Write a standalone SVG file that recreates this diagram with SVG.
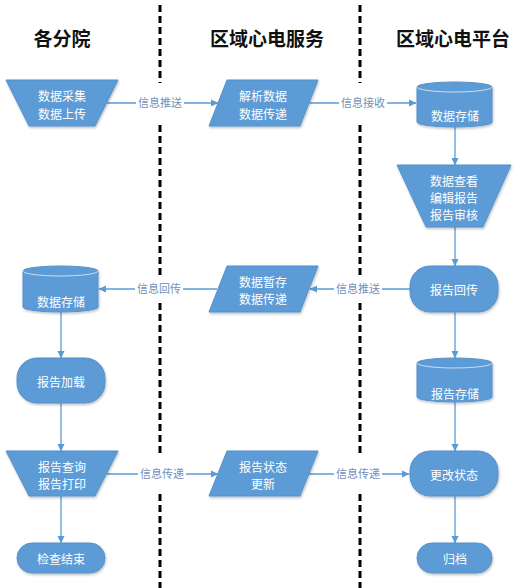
<svg xmlns="http://www.w3.org/2000/svg" width="521" height="588" viewBox="0 0 521 588">
<defs>
<marker id="ah" markerWidth="8" markerHeight="8" refX="7" refY="4" orient="auto" markerUnits="userSpaceOnUse">
<path d="M0,0.5 L7.5,4 L0,7.5 Z" fill="#5B9BD5"/>
</marker>
<filter id="sh" x="-10%" y="-10%" width="125%" height="135%">
<feDropShadow dx="0.8" dy="1.5" stdDeviation="1.2" flood-color="#000" flood-opacity="0.25"/>
</filter>
<style>
.title{font-family:"Noto Sans CJK SC","Liberation Sans",sans-serif;font-size:19px;font-weight:bold;fill:#111;text-anchor:middle;dominant-baseline:central}
.shape{fill:#5B9BD5;stroke:#5591CC;stroke-width:1;filter:url(#sh)}
.nt{font-family:"Noto Sans CJK SC","Liberation Sans",sans-serif;font-size:12px;fill:#fff;text-anchor:middle;dominant-baseline:central}
.cl{fill:none;stroke:#C9DDF1;stroke-width:1}
.edge{fill:none;stroke:#5B9BD5;stroke-width:1.3;marker-end:url(#ah)}
.lbg{fill:#fff}
.lt{font-family:"Noto Sans CJK SC","Liberation Sans",sans-serif;font-size:11px;fill:#6F8FB8;text-anchor:middle;dominant-baseline:central}
.lane{stroke:#000;stroke-width:3;stroke-dasharray:7 4;fill:none}
</style>
</defs>

<g id="lanes">
<path class="lane" d="M160,5 V83 M160,125 V275 M160,303 V453 M160,494 V588"/>
<path class="lane" d="M360,5 V83 M360,125 V275 M360,303 V453 M360,494 V588"/>
</g>

<g id="titles">
<text class="title" x="62" y="37">各分院</text>
<text class="title" x="267" y="37">区域心电服务</text>
<text class="title" x="453" y="37">区域心电平台</text>
</g>

<g id="connectors">
<line class="edge" x1="107" y1="103" x2="218" y2="103"/>
<line class="edge" x1="309" y1="103" x2="416" y2="103"/>
<line class="edge" x1="455" y1="127" x2="455" y2="165"/>
<line class="edge" x1="455" y1="227" x2="455" y2="266"/>
<line class="edge" x1="410" y1="289" x2="310" y2="289"/>
<line class="edge" x1="217" y1="289" x2="99" y2="289"/>
<line class="edge" x1="61" y1="312" x2="61" y2="358"/>
<line class="edge" x1="455" y1="312" x2="455" y2="358"/>
<line class="edge" x1="61" y1="403" x2="61" y2="451"/>
<line class="edge" x1="455" y1="402" x2="455" y2="451"/>
<line class="edge" x1="107" y1="474" x2="218" y2="474"/>
<line class="edge" x1="309" y1="474" x2="409" y2="474"/>
<line class="edge" x1="61" y1="496" x2="61" y2="543"/>
<line class="edge" x1="455" y1="496" x2="455" y2="543"/>
<rect class="lbg" x="136" y="95" width="48" height="16"/>
<text class="lt" x="160" y="102">信息推送</text>
<rect class="lbg" x="339" y="95" width="48" height="16"/>
<text class="lt" x="363" y="102">信息接收</text>
<rect class="lbg" x="334" y="281" width="48" height="16"/>
<text class="lt" x="358" y="288">信息推送</text>
<rect class="lbg" x="135" y="281" width="48" height="16"/>
<text class="lt" x="159" y="288">信息回传</text>
<rect class="lbg" x="138" y="466" width="48" height="16"/>
<text class="lt" x="162" y="473">信息传递</text>
<rect class="lbg" x="334" y="466" width="48" height="16"/>
<text class="lt" x="358" y="473">信息传递</text>
</g>

<g id="n-collect">
<polygon class="shape" points="6,80 118,80 95,126 29,126"/>
<text class="nt" x="62" y="95">数据采集</text>
<text class="nt" x="62" y="113">数据上传</text>
</g>

<g id="n-parse">
<polygon class="shape" points="227,80 318,80 300,126 209,126"/>
<text class="nt" x="263" y="95">解析数据</text>
<text class="nt" x="263" y="113">数据传递</text>
</g>

<g id="n-store1">
<path class="shape" d="M417,87 A37.5,5 0 0 1 492,87 V122 A37.5,5 0 0 1 417,122 Z"/>
<path class="cl" d="M417,87 A37.5,5 0 0 0 492,87"/>
<text class="nt" x="455" y="115">数据存储</text>
</g>

<g id="n-review">
<polygon class="shape" points="397,165 511,165 483,227 426,227"/>
<text class="nt" x="454" y="180">数据查看</text>
<text class="nt" x="454" y="197">编辑报告</text>
<text class="nt" x="454" y="214">报告审核</text>
</g>

<g id="n-return">
<rect class="shape" x="410" y="266" width="88" height="46" rx="20" ry="20"/>
<text class="nt" x="454" y="289">报告回传</text>
</g>

<g id="n-temp">
<polygon class="shape" points="227,266 318,266 300,312 209,312"/>
<text class="nt" x="263" y="281">数据暂存</text>
<text class="nt" x="263" y="298">数据传递</text>
</g>

<g id="n-store2">
<path class="shape" d="M23,271 A37.5,5 0 0 1 98,271 V307 A37.5,5 0 0 1 23,307 Z"/>
<path class="cl" d="M23,271 A37.5,5 0 0 0 98,271"/>
<text class="nt" x="61" y="301">数据存储</text>
</g>

<g id="n-load">
<rect class="shape" x="17" y="358" width="88" height="45" rx="20" ry="20"/>
<text class="nt" x="61" y="381">报告加载</text>
</g>

<g id="n-store3">
<path class="shape" d="M417,363 A37.5,5 0 0 1 492,363 V397 A37.5,5 0 0 1 417,397 Z"/>
<path class="cl" d="M417,363 A37.5,5 0 0 0 492,363"/>
<text class="nt" x="455" y="393">报告存储</text>
</g>

<g id="n-query">
<polygon class="shape" points="6,451 118,451 95,496 29,496"/>
<text class="nt" x="62" y="466">报告查询</text>
<text class="nt" x="62" y="483">报告打印</text>
</g>

<g id="n-status">
<polygon class="shape" points="227,451 318,451 300,496 209,496"/>
<text class="nt" x="263" y="466">报告状态</text>
<text class="nt" x="263" y="483">更新</text>
</g>

<g id="n-change">
<rect class="shape" x="410" y="451" width="88" height="45" rx="20" ry="20"/>
<text class="nt" x="454" y="474">更改状态</text>
</g>

<g id="n-end">
<rect class="shape" x="17" y="543" width="88" height="30" rx="15" ry="15"/>
<text class="nt" x="61" y="558">检查结束</text>
</g>

<g id="n-archive">
<rect class="shape" x="417" y="543" width="75" height="30" rx="15" ry="15"/>
<text class="nt" x="455" y="558">归档</text>
</g>
</svg>
